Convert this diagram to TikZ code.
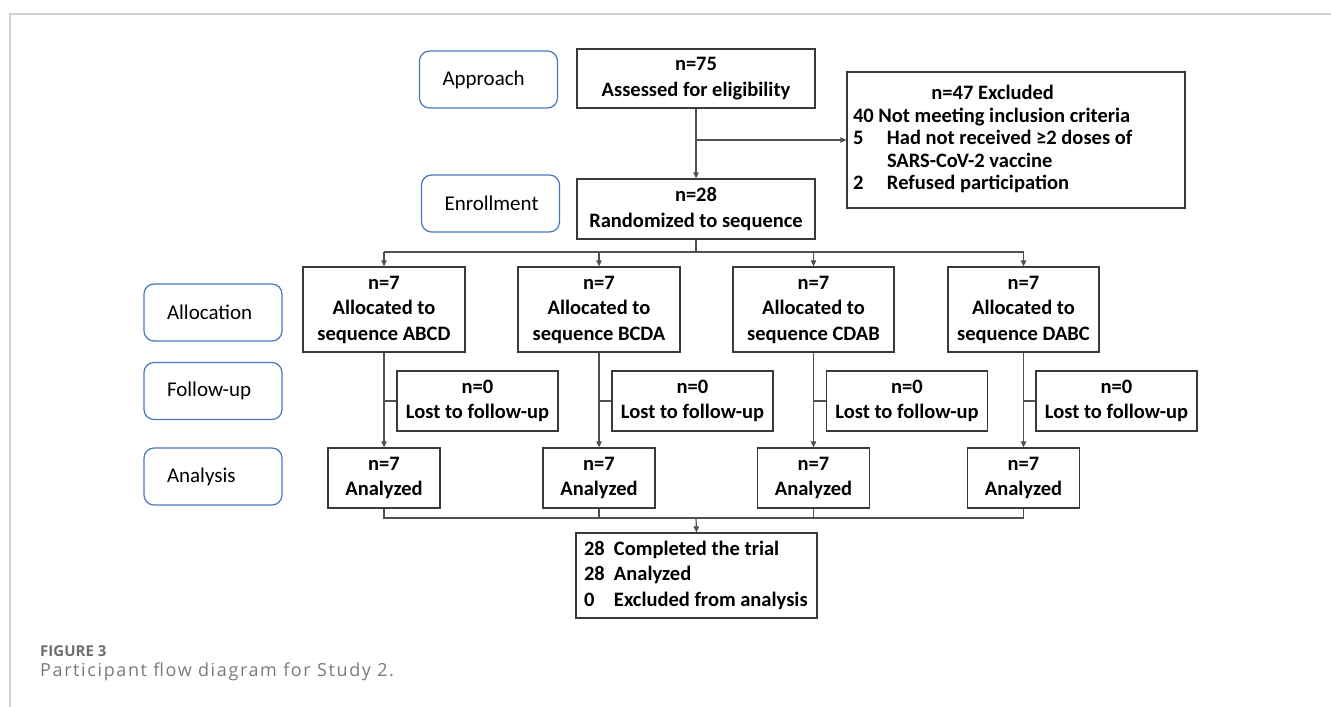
\documentclass[tikz,border=0pt]{standalone}
\usepackage{fontspec}
\setmainfont{Carlito}
\newfontfamily\capfont{Open Sans}
\newfontfamily\capfontw{Open Sans}[LetterSpace=9]
\usetikzlibrary{arrows.meta}
\definecolor{boxline}{HTML}{3A3A3A}
\definecolor{connline}{HTML}{505050}
\definecolor{lblue}{HTML}{4A76C0}
\definecolor{capgray}{HTML}{6E6E6E}
\definecolor{capgrayl}{HTML}{7A7A7A}
\definecolor{framegray}{HTML}{D2D2D2}
\begin{document}
\begin{tikzpicture}[x=1pt,y=-1pt,
  box/.style={draw=boxline, line width=1.3pt, inner sep=0pt, align=center,
    font=\fontsize{20.5}{25.5}\selectfont\bfseries},
  lbl/.style={draw=lblue, line width=1.2pt, rounded corners=10pt, inner ysep=0pt,
    inner xsep=23pt, text width=92pt, align=left, minimum height=57pt,
    font=\fontsize{21}{25}\selectfont},
  conn/.style={draw=connline, line width=1.2pt},
  arr/.style={conn, -{Triangle[length=6pt,width=5.5pt]}},
  alloc/.style={box, minimum width=162pt, minimum height=85pt},
  lost/.style={box, minimum width=161pt, minimum height=60pt},
  anal/.style={box, minimum width=112pt, minimum height=60pt},
]
\useasboundingbox (0,0) rectangle (1331,707);
\draw[framegray, line width=1.5pt] (10,707) -- (10,14) -- (1331,14);

% stage labels
\node[lbl] (approach) at (488.5,79.5) {Approach};
\node[lbl] (enroll) at (490.5,203.5) {Enrollment};
\node[lbl] (lalloc) at (213,312.5) {Allocation};
\node[lbl] (lfollow) at (213,391) {Follow-up};
\node[lbl] (lanal) at (213,476.5) {Analysis};

% main boxes
\node[box, minimum width=238pt, minimum height=59pt, font=\fontsize{20.5}{26}\selectfont\bfseries] (assess) at (696,78.5) {n=75\\Assessed for eligibility};
\node[box, minimum width=238pt, minimum height=60pt, font=\fontsize{20.5}{26}\selectfont\bfseries] (rand) at (696,209) {n=28\\Randomized to sequence};
\node[box, minimum width=338pt, minimum height=136pt, inner xsep=6pt, text width=326pt, align=left] (excl) at (1016,140) {%
  \spaceskip=0pt \xspaceskip=0pt
  \fontsize{20.5}{22.5}\selectfont
  \begin{tabular}{@{}p{34pt}@{}l@{}}
  \multicolumn{2}{c}{n=47 Excluded}\\
  \multicolumn{2}{@{}l@{}}{40 Not meeting inclusion criteria}\\
  5 & Had not received ≥2 doses of\\
    & SARS-CoV-2 vaccine\\
  2 & Refused participation
  \end{tabular}};

% allocation boxes
\node[alloc] (a1) at (384,309.5) {n=7\\Allocated to\\sequence ABCD};
\node[alloc] (a2) at (599,309.5) {n=7\\Allocated to\\sequence BCDA};
\node[alloc, minimum width=161pt] (a3) at (813.5,309.5) {n=7\\Allocated to\\sequence CDAB};
\node[alloc, minimum width=151pt] (a4) at (1023.5,309.5) {n=7\\Allocated to\\sequence DABC};

% lost boxes
\node[lost] (l1) at (477.5,401) {n=0\\Lost to follow-up};
\node[lost] (l2) at (692.5,401) {n=0\\Lost to follow-up};
\node[lost] (l3) at (907,401) {n=0\\Lost to follow-up};
\node[lost] (l4) at (1116.5,401) {n=0\\Lost to follow-up};

% analyzed boxes
\node[anal] (n1) at (384,478) {n=7\\Analyzed};
\node[anal] (n2) at (599,478) {n=7\\Analyzed};
\node[anal] (n3) at (813.5,478) {n=7\\Analyzed};
\node[anal] (n4) at (1023.5,478) {n=7\\Analyzed};

% final box
\node[box, minimum width=241pt, minimum height=85pt, inner xsep=8pt, text width=225pt, align=left] (final) at (696.5,575.5) {%
  \spaceskip=0pt \xspaceskip=0pt
  \begin{tabular}{@{}p{30pt}@{}l@{}}
  28 & Completed the trial\\
  28 & Analyzed\\
  0 & Excluded from analysis
  \end{tabular}};

% connectors
\draw[arr] (assess) -- (rand);
\draw[arr] (assess.south |- excl.west) -- (excl.west);
\coordinate (split) at (696,252);
\draw[conn] (rand.south) -- (split);
\draw[conn] (a1.north |- split) -- (a4.north |- split);
\foreach \i in {1,2,3,4}{
  \draw[arr] (a\i.north |- split) -- (a\i.north);
  \draw[arr] (a\i) -- (n\i);
  \draw[conn] (l\i.west) -- (a\i.south |- l\i.west);
}
\coordinate (join) at (696,518);
\draw[conn] (n1.south) -- (n1.south |- join) -- (n4.south |- join) -- (n4.south);
\draw[conn] (n2.south) -- (n2.south |- join);
\draw[conn] (n3.south) -- (n3.south |- join);
\draw[arr] (join) -- (final.north);

% caption
\node[anchor=base west, inner sep=0pt, text=capgray, font=\capfont\bfseries\fontsize{15}{18}\selectfont] (fig) at (40,656) {FIGURE 3};
\node[anchor=base west, inner sep=0pt, text=capgrayl, font=\capfontw\fontsize{18}{21}\selectfont] (cap) at (40,676) {Participant flow diagram for Study 2.};
\end{tikzpicture}
\end{document}
